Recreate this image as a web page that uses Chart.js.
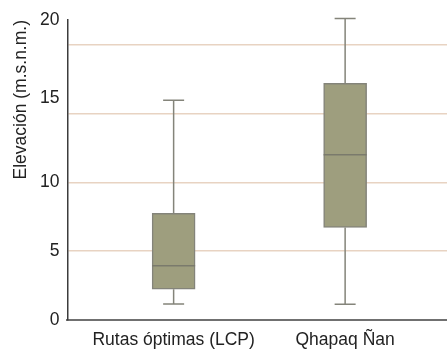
<!DOCTYPE html>
<html>
<head>
<meta charset="utf-8">
<script src="https://cdn.jsdelivr.net/npm/chart.js@4/dist/chart.umd.min.js"></script>
<style>
  html, body { margin: 0; padding: 0; background: #fff; }
  #wrap { width: 447px; height: 364px; }
</style>
</head>
<body>
<div id="wrap"><canvas id="chart"></canvas></div>
<script>
// box plot data (elevation)
const categories = ['Rutas óptimas (LCP)', 'Qhapaq Ñan'];
const xPositions = [0, 1];
const whiskerMin = [1.17, 1.14];
const q1 = [2.24, 6.72];
const median = [3.95, 12.0];
const q3 = [7.75, 17.2];
const whiskerMax = [15.96, 21.9];

// axis: gridlines and the (oddly placed) tick labels of the original
const gridValues = [5, 10, 15, 20];
const tickLabels = ['0', '5', '10', '15', '20'];
const tickLabelValues = [0, 5, 10, 16.1, 21.8];

const boxFill = '#9e9e7e';
const boxLine = '#84847a';
const gridColor = '#e8d3c2';

const whiskerPlugin = {
  id: 'whiskers',
  beforeDatasetsDraw(chart) {
    const ctx = chart.ctx;
    const xs = chart.scales.x, ys = chart.scales.y;
    ctx.save();
    ctx.strokeStyle = boxLine;
    ctx.lineWidth = 1.5;
    xPositions.forEach((xv, i) => {
      const px = xs.getPixelForValue(xv);
      const capHalf = 10.5;
      ctx.beginPath();
      ctx.moveTo(px, ys.getPixelForValue(q3[i]));
      ctx.lineTo(px, ys.getPixelForValue(whiskerMax[i]));
      ctx.moveTo(px - capHalf, ys.getPixelForValue(whiskerMax[i]));
      ctx.lineTo(px + capHalf, ys.getPixelForValue(whiskerMax[i]));
      ctx.moveTo(px, ys.getPixelForValue(q1[i]));
      ctx.lineTo(px, ys.getPixelForValue(whiskerMin[i]));
      ctx.moveTo(px - capHalf, ys.getPixelForValue(whiskerMin[i]));
      ctx.lineTo(px + capHalf, ys.getPixelForValue(whiskerMin[i]));
      ctx.stroke();
    });
    ctx.restore();
  },
  afterDatasetsDraw(chart) {
    const ctx = chart.ctx;
    const ys = chart.scales.y;
    const meta = chart.getDatasetMeta(0);
    ctx.save();
    ctx.strokeStyle = '#7a7a6c';
    ctx.lineWidth = 1.5;
    meta.data.forEach((bar, i) => {
      const half = bar.width / 2;
      const py = ys.getPixelForValue(median[i]);
      ctx.beginPath();
      ctx.moveTo(bar.x - half, py);
      ctx.lineTo(bar.x + half, py);
      ctx.stroke();
    });
    ctx.restore();
  }
};

const font = { family: '"Liberation Sans", Arial, sans-serif', size: 17.5 };

new Chart(document.getElementById('chart'), {
  type: 'bar',
  data: {
    datasets: [{
      data: xPositions.map((x, i) => ({ x: x, y: [q1[i], q3[i]] })),
      backgroundColor: boxFill,
      borderColor: boxLine,
      borderWidth: 1.5,
      borderSkipped: false,
      barThickness: 43
    }]
  },
  options: {
    responsive: true,
    maintainAspectRatio: false,
    animation: false,
    layout: { padding: { top: 20, right: 0, bottom: 11, left: 0 } },
    plugins: { legend: { display: false }, tooltip: { enabled: false } },
    scales: {
      x: {
        type: 'linear',
        offset: false,
        min: -0.619,
        max: 1.594,
        afterBuildTicks: (axis) => { axis.ticks = xPositions.map(v => ({ value: v })); },
        ticks: {
          color: '#222',
          font: font,
          padding: 2,
          maxRotation: 0,
          callback: (v) => categories[xPositions.indexOf(v)] || ''
        },
        grid: { display: false },
        border: { color: '#707070', width: 2 }
      },
      y: {
        min: 0,
        max: 21.8,
        afterBuildTicks: (axis) => {
          const vals = [...new Set([...tickLabelValues, ...gridValues])].sort((a, b) => a - b);
          axis.ticks = vals.map(v => ({ value: v }));
        },
        ticks: {
          color: '#222',
          font: font,
          padding: 8,
          callback: (v) => {
            const i = tickLabelValues.indexOf(v);
            return i >= 0 ? tickLabels[i] : '';
          }
        },
        grid: {
          drawTicks: false,
          lineWidth: 1.5,
          color: (c) => (c.tick && gridValues.includes(c.tick.value)) ? gridColor : 'rgba(0,0,0,0)'
        },
        border: { color: '#3c3c3c', width: 1.5 },
        title: {
          display: true,
          text: 'Elevación (m.s.n.m.)',
          align: 'end',
          color: '#222',
          font: font,
          padding: { top: 11, bottom: 0 }
        }
      }
    }
  },
  plugins: [whiskerPlugin]
});
</script>
</body>
</html>
